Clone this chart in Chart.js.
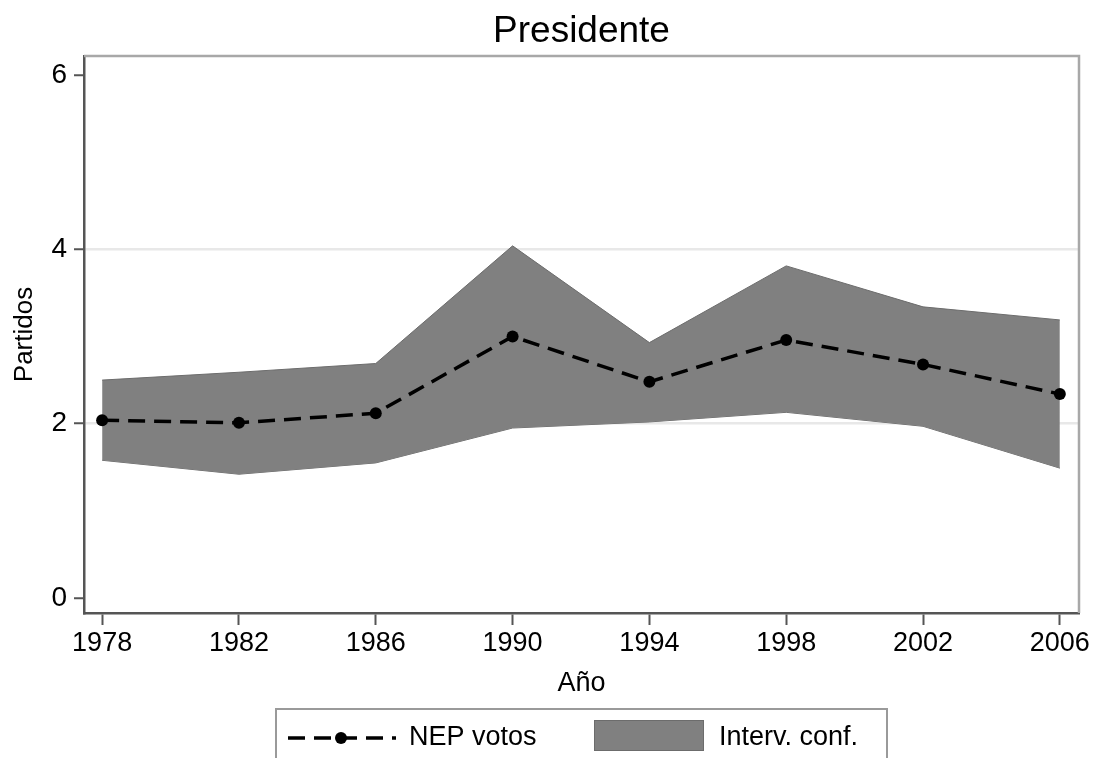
<!DOCTYPE html>
<html>
<head>
<meta charset="utf-8">
<script src="https://cdn.jsdelivr.net/npm/chart.js@4/dist/chart.umd.min.js"></script>
<style>
  html, body { margin: 0; padding: 0; background: #ffffff; }
  canvas { display: block; }
</style>
</head>
<body>
<canvas id="chart" width="1093" height="758"></canvas>
<script>
// Número efectivo de partidos (votos), elección presidencial, con intervalo de confianza
const years   = [1978, 1982, 1986, 1990, 1994, 1998, 2002, 2006];
const nepVotos = [2.04, 2.01, 2.12, 3.00, 2.48, 2.96, 2.68, 2.34];
const ciUpper  = [2.50, 2.59, 2.69, 4.04, 2.93, 3.81, 3.34, 3.19];
const ciLower  = [1.58, 1.42, 1.55, 1.95, 2.02, 2.13, 1.97, 1.49];
const yTicks   = [0, 2, 4, 6];
const xTicks   = [1978, 1982, 1986, 1990, 1994, 1998, 2002, 2006];

const chartTitle = 'Presidente';
const xTitle = 'Año';
const yTitle = 'Partidos';
const legendLine = 'NEP votos';
const legendBand = 'Interv. conf.';

const SANS = '"Liberation Sans", Arial, Helvetica, sans-serif';

const pts = (vals) => years.map((yr, i) => ({ x: yr, y: vals[i] }));

Chart.defaults.color = '#000000';

// Light frame on the top and right sides of the plot region
const frame = {
  id: 'frame',
  afterDraw(chart) {
    const { ctx, chartArea: a } = chart;
    ctx.save();
    ctx.strokeStyle = '#a8a8a8';
    ctx.lineWidth = 2.5;
    ctx.beginPath();
    ctx.moveTo(a.left, a.top);
    ctx.lineTo(a.right, a.top);
    ctx.lineTo(a.right, a.bottom);
    ctx.stroke();
    ctx.restore();
  }
};

// Boxed legend below the axis title
const boxLegend = {
  id: 'boxLegend',
  afterDraw(chart) {
    const { ctx } = chart;
    const line = chart.data.datasets[0];
    const band = chart.data.datasets[1];
    const cy = 738;
    ctx.save();
    ctx.strokeStyle = '#9a9a9a';
    ctx.lineWidth = 2;
    ctx.strokeRect(276, 709, 611, 70);

    ctx.strokeStyle = line.borderColor;
    ctx.lineWidth = line.borderWidth;
    ctx.setLineDash(line.borderDash);
    ctx.beginPath();
    ctx.moveTo(288, cy);
    ctx.lineTo(396, cy);
    ctx.stroke();
    ctx.setLineDash([]);
    ctx.fillStyle = line.pointBackgroundColor;
    ctx.beginPath();
    ctx.arc(341, cy, line.pointRadius, 0, Math.PI * 2);
    ctx.fill();

    ctx.fillStyle = band.backgroundColor;
    ctx.fillRect(594, 720, 110, 31);
    ctx.strokeStyle = band.borderColor;
    ctx.lineWidth = 1;
    ctx.strokeRect(594.5, 720.5, 109, 30);

    ctx.fillStyle = '#000000';
    ctx.font = '27px ' + SANS;
    ctx.textBaseline = 'middle';
    ctx.textAlign = 'left';
    ctx.fillText(legendLine, 409, cy);
    ctx.fillText(legendBand, 719, cy);
    ctx.restore();
  }
};

new Chart(document.getElementById('chart'), {
  type: 'line',
  data: {
    datasets: [
      {
        label: legendLine,
        data: pts(nepVotos),
        borderColor: '#000000',
        borderWidth: 3.5,
        borderDash: [17, 9],
        pointRadius: 6,
        pointBackgroundColor: '#000000',
        pointBorderColor: '#000000',
        pointBorderWidth: 0,
        fill: false,
        tension: 0
      },
      {
        label: legendBand,
        data: pts(ciUpper),
        borderColor: '#6c6c6c',
        borderWidth: 1,
        backgroundColor: '#808080',
        pointRadius: 0,
        fill: '+1',
        tension: 0
      },
      {
        label: legendBand + ' (inf.)',
        data: pts(ciLower),
        borderColor: '#6c6c6c',
        borderWidth: 1,
        backgroundColor: '#808080',
        pointRadius: 0,
        fill: false,
        tension: 0
      }
    ]
  },
  options: {
    responsive: false,
    animation: false,
    devicePixelRatio: 1,
    layout: { padding: { left: 0, right: 14, top: 0, bottom: 58 } },
    plugins: {
      legend: { display: false },
      tooltip: { enabled: false },
      title: {
        display: true,
        text: chartTitle,
        fullSize: false,
        color: '#000000',
        font: { family: SANS, size: 37, weight: 'normal' },
        padding: { top: 10, bottom: 1.6 }
      }
    },
    scales: {
      x: {
        type: 'linear',
        min: 1977.47,
        max: 2006.56,
        afterFit(scale) { scale.height = 87; },
        afterBuildTicks(scale) { scale.ticks = xTicks.map(v => ({ value: v })); },
        border: { color: '#555555', width: 2.5 },
        grid: {
          drawOnChartArea: false,
          drawTicks: true,
          tickLength: 12,
          tickColor: '#555555',
          tickWidth: 2
        },
        ticks: {
          padding: 2,
          maxRotation: 0,
          autoSkip: false,
          color: '#000000',
          font: { family: SANS, size: 27 },
          callback: (v) => String(v)
        },
        title: {
          display: true,
          text: xTitle,
          color: '#000000',
          font: { family: SANS, size: 27 },
          padding: { top: 0, bottom: 0 }
        }
      },
      y: {
        type: 'linear',
        min: -0.172,
        max: 6.218,
        afterFit(scale) { scale.width = 84; },
        afterBuildTicks(scale) { scale.ticks = yTicks.map(v => ({ value: v })); },
        border: { color: '#555555', width: 2.5 },
        grid: {
          drawOnChartArea: true,
          drawTicks: true,
          tickLength: 10,
          tickColor: '#555555',
          tickWidth: 2,
          lineWidth: 2.5,
          color: (ctx) => (ctx.tick && (ctx.tick.value === 2 || ctx.tick.value === 4)) ? '#e8e8e8' : 'rgba(0,0,0,0)'
        },
        ticks: {
          padding: 7,
          color: '#000000',
          font: { family: SANS, size: 28 },
          callback: (v) => String(v)
        },
        title: {
          display: true,
          text: yTitle,
          color: '#000000',
          font: { family: SANS, size: 26 },
          padding: { top: 9, bottom: 0 }
        }
      }
    }
  },
  plugins: [frame, boxLegend]
});
</script>
</body>
</html>
